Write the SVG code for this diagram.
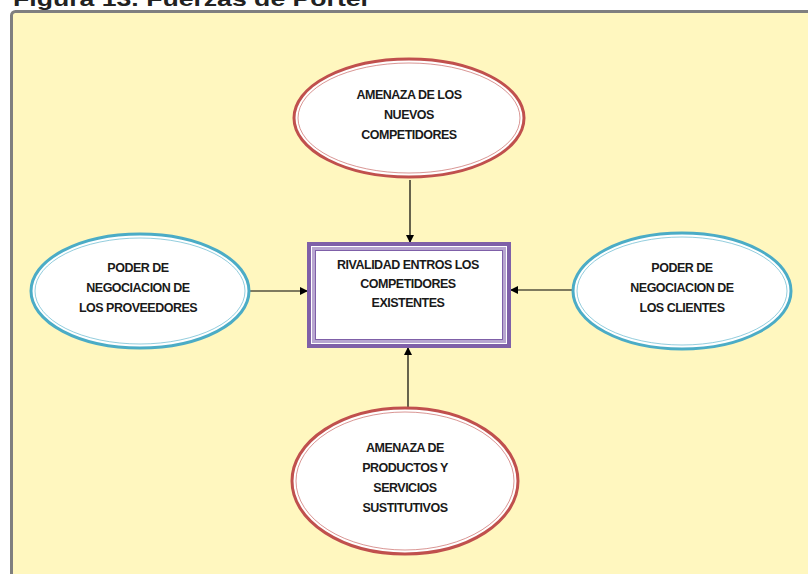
<svg xmlns="http://www.w3.org/2000/svg" width="808" height="574" viewBox="0 0 808 574">
<defs>
<marker id="ah" markerWidth="8" markerHeight="8" refX="7" refY="4" orient="auto" markerUnits="userSpaceOnUse">
<path d="M0,0 L8,4 L0,8 Z" fill="#000"/>
</marker>
<style>
.t{font-family:"Liberation Sans",Arial,sans-serif;font-weight:bold;font-size:12.5px;fill:#1a1a1a;text-anchor:middle;letter-spacing:-0.5px}
.red{fill:#fff;stroke:#C0504D;stroke-width:3}
.redi{fill:none;stroke:#C0504D;stroke-width:1;stroke-opacity:0.6}
.blue{fill:#fff;stroke:#4BACC6;stroke-width:3}
.bluei{fill:none;stroke:#4BACC6;stroke-width:1;stroke-opacity:0.6}
.con{stroke:#000;stroke-width:1.2;fill:none;marker-end:url(#ah)}
</style>
</defs>
<rect width="808" height="574" fill="#fff"/>
<text x="13" y="6" font-family="Liberation Sans,Arial,sans-serif" font-weight="bold" font-size="21" fill="#222" textLength="358" lengthAdjust="spacingAndGlyphs">Figura 13. Fuerzas de Porter</text>
<rect x="11.5" y="11.5" width="820" height="600" rx="4" fill="#FFF7BF" stroke="#7F7F7F" stroke-width="3"/>
<g id="connectors">
<line class="con" x1="410" y1="180" x2="410" y2="242"/>
<line class="con" x1="250" y1="291" x2="307" y2="291"/>
<line class="con" x1="572" y1="290" x2="511" y2="290"/>
<line class="con" x1="408" y1="408" x2="408" y2="348"/>
</g>
<g id="nuevos">
<ellipse class="red" cx="409" cy="118" rx="115" ry="59"/>
<ellipse class="redi" cx="409" cy="118" rx="111" ry="55"/>
<text class="t" x="409" y="99">AMENAZA DE LOS</text>
<text class="t" x="409" y="119">NUEVOS</text>
<text class="t" x="409" y="139">COMPETIDORES</text>
</g>
<g id="rivalidad">
<rect x="309" y="244" width="200" height="102" fill="#fff" stroke="#7F60A8" stroke-width="4"/>
<rect x="313.5" y="248.5" width="191" height="93" fill="none" stroke="#B8A6D0" stroke-width="3"/>
<rect x="315.5" y="250.5" width="187" height="89" fill="none" stroke="#7F60A8" stroke-width="1"/>
<text class="t" x="408" y="269">RIVALIDAD ENTROS LOS</text>
<text class="t" x="408" y="288">COMPETIDORES</text>
<text class="t" x="408" y="307">EXISTENTES</text>
</g>
<g id="proveedores">
<ellipse class="blue" cx="140" cy="291" rx="109" ry="57"/>
<ellipse class="bluei" cx="140" cy="291" rx="105" ry="53"/>
<text class="t" x="138" y="272">PODER DE</text>
<text class="t" x="138" y="292">NEGOCIACION DE</text>
<text class="t" x="138" y="312">LOS PROVEEDORES</text>
</g>
<g id="clientes">
<ellipse class="blue" cx="682" cy="291" rx="109" ry="58"/>
<ellipse class="bluei" cx="682" cy="291" rx="105" ry="54"/>
<text class="t" x="682" y="272">PODER DE</text>
<text class="t" x="682" y="292">NEGOCIACION DE</text>
<text class="t" x="682" y="312">LOS CLIENTES</text>
</g>
<g id="sustitutos">
<ellipse class="red" cx="405" cy="481" rx="113" ry="73"/>
<ellipse class="redi" cx="405" cy="481" rx="109" ry="69"/>
<text class="t" x="405" y="452">AMENAZA DE</text>
<text class="t" x="405" y="472">PRODUCTOS Y</text>
<text class="t" x="405" y="492">SERVICIOS</text>
<text class="t" x="405" y="512">SUSTITUTIVOS</text>
</g>
</svg>
